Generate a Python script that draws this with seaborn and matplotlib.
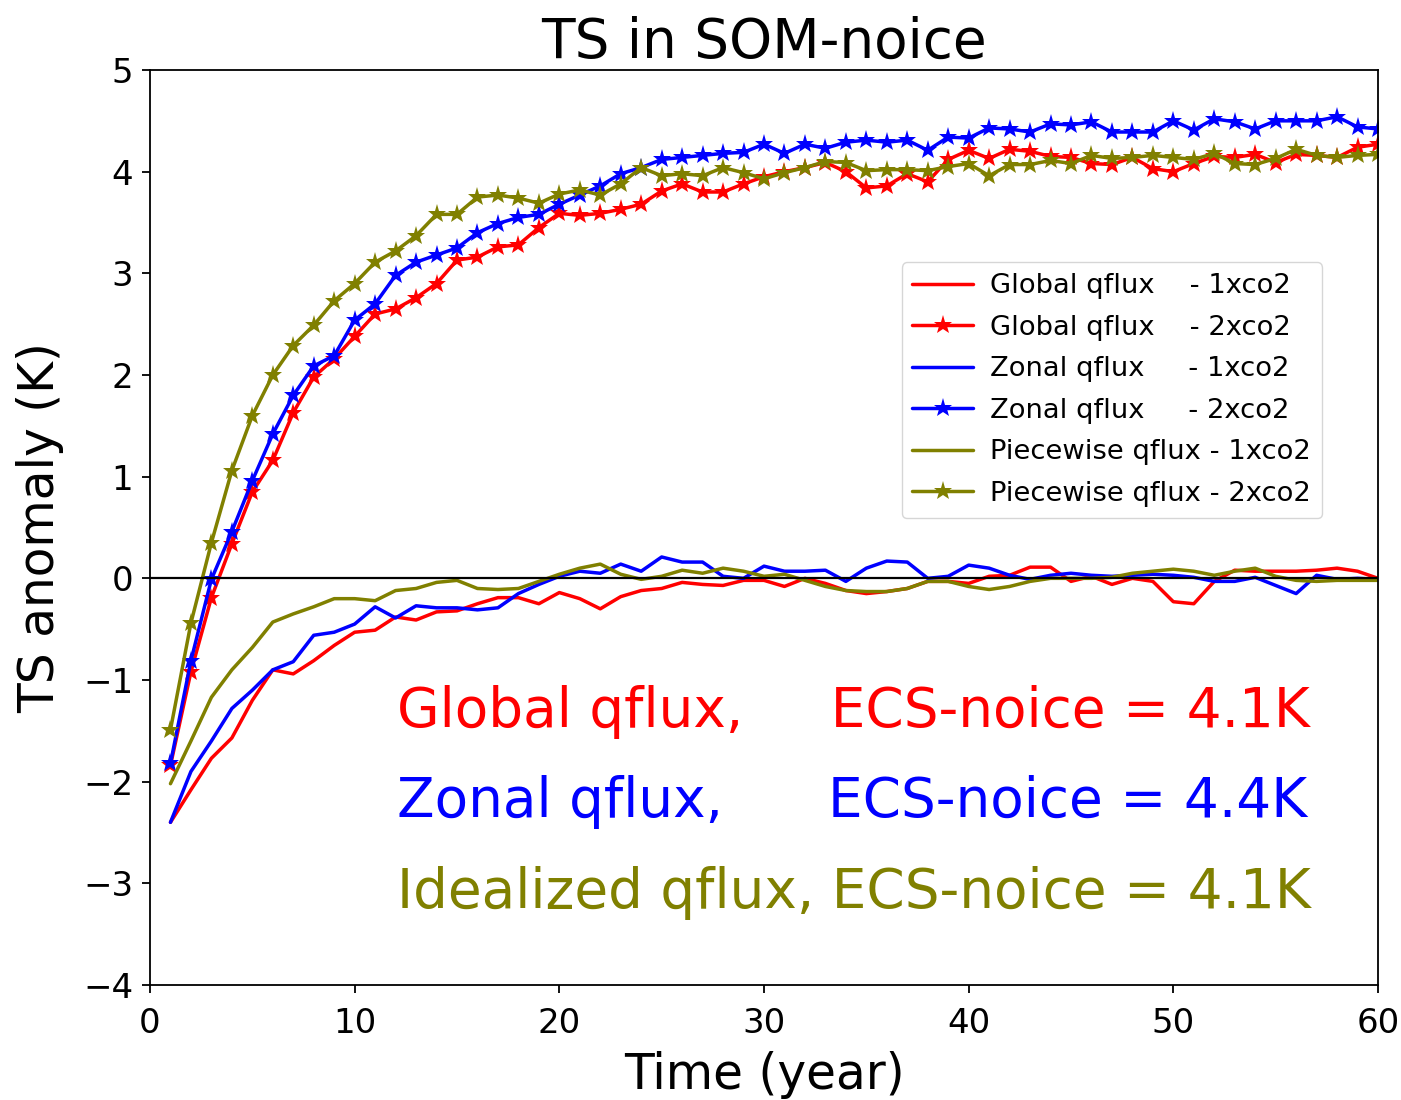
import numpy as np
import pandas as pd
import matplotlib
matplotlib.use("Agg")
import matplotlib.pyplot as plt
import seaborn as sns

# Simulation years
years = list(range(1, 61))

# Global-mean surface temperature anomaly (K)
global_1x = [-2.40, -2.08, -1.77, -1.57, -1.20, -0.90, -0.94, -0.81, -0.66, -0.53,
             -0.51, -0.38, -0.41, -0.33, -0.32, -0.25, -0.19, -0.19, -0.25, -0.14,
             -0.20, -0.30, -0.18, -0.12, -0.10, -0.04, -0.06, -0.07, -0.02, -0.02,
             -0.08, 0.00, -0.05, -0.12, -0.15, -0.13, -0.10, -0.03, -0.03, -0.05,
             0.02, 0.03, 0.11, 0.11, -0.03, 0.02, -0.06, 0.00, -0.03, -0.23,
             -0.25, -0.03, 0.08, 0.07, 0.07, 0.07, 0.08, 0.10, 0.07, 0.00]
global_2x = [-1.84, -0.92, -0.19, 0.34, 0.85, 1.16, 1.63, 1.98, 2.16, 2.38,
             2.60, 2.65, 2.76, 2.90, 3.13, 3.16, 3.26, 3.28, 3.45, 3.59,
             3.57, 3.59, 3.63, 3.68, 3.81, 3.88, 3.80, 3.80, 3.88, 3.95,
             4.00, 4.04, 4.09, 4.00, 3.84, 3.86, 3.98, 3.90, 4.12, 4.21,
             4.13, 4.22, 4.20, 4.15, 4.14, 4.08, 4.07, 4.14, 4.03, 4.00,
             4.08, 4.15, 4.14, 4.17, 4.09, 4.17, 4.16, 4.14, 4.24, 4.27]
zonal_1x = [-2.40, -1.90, -1.60, -1.28, -1.10, -0.90, -0.82, -0.56, -0.53, -0.45,
            -0.28, -0.39, -0.27, -0.29, -0.29, -0.31, -0.29, -0.15, -0.06, 0.02,
            0.07, 0.05, 0.14, 0.07, 0.21, 0.16, 0.16, 0.02, 0.00, 0.12,
            0.07, 0.07, 0.08, -0.03, 0.10, 0.17, 0.16, 0.00, 0.02, 0.13,
            0.10, 0.03, -0.01, 0.03, 0.05, 0.03, 0.02, 0.03, 0.04, 0.03,
            0.01, -0.03, -0.03, 0.01, -0.07, -0.15, 0.03, -0.01, 0.00, -0.01]
zonal_2x = [-1.82, -0.81, -0.01, 0.46, 0.96, 1.42, 1.80, 2.09, 2.19, 2.54,
            2.70, 2.98, 3.11, 3.18, 3.25, 3.40, 3.49, 3.55, 3.58, 3.68,
            3.77, 3.86, 3.98, 4.04, 4.12, 4.14, 4.16, 4.18, 4.19, 4.27,
            4.18, 4.27, 4.23, 4.29, 4.31, 4.29, 4.31, 4.21, 4.34, 4.33,
            4.43, 4.42, 4.39, 4.47, 4.46, 4.49, 4.39, 4.39, 4.39, 4.50,
            4.41, 4.52, 4.49, 4.42, 4.50, 4.50, 4.50, 4.54, 4.44, 4.42]
piece_1x = [-2.02, -1.60, -1.17, -0.90, -0.68, -0.43, -0.35, -0.28, -0.20, -0.20,
            -0.22, -0.12, -0.10, -0.04, -0.02, -0.10, -0.11, -0.10, -0.03, 0.04,
            0.10, 0.14, 0.04, -0.01, 0.02, 0.08, 0.05, 0.10, 0.07, 0.02,
            0.04, -0.02, -0.08, -0.12, -0.13, -0.13, -0.10, -0.03, -0.03, -0.08,
            -0.11, -0.08, -0.03, 0.00, 0.00, 0.00, 0.01, 0.05, 0.07, 0.09,
            0.07, 0.03, 0.07, 0.10, 0.02, -0.02, -0.03, -0.02, -0.02, -0.02]
piece_2x = [-1.49, -0.44, 0.35, 1.06, 1.60, 2.00, 2.29, 2.49, 2.73, 2.90,
            3.11, 3.22, 3.37, 3.58, 3.58, 3.75, 3.77, 3.74, 3.69, 3.78,
            3.82, 3.77, 3.88, 4.04, 3.96, 3.98, 3.96, 4.04, 3.99, 3.93,
            3.99, 4.04, 4.10, 4.09, 4.01, 4.02, 4.02, 4.01, 4.05, 4.08,
            3.96, 4.07, 4.07, 4.11, 4.08, 4.16, 4.13, 4.14, 4.16, 4.14,
            4.12, 4.18, 4.08, 4.07, 4.13, 4.22, 4.16, 4.14, 4.16, 4.17]

series_labels = ["Global qflux    - 1xco2", "Global qflux    - 2xco2",
                 "Zonal qflux     - 1xco2", "Zonal qflux     - 2xco2",
                 "Piecewise qflux - 1xco2", "Piecewise qflux - 2xco2"]
series_values = [global_1x, global_2x, zonal_1x, zonal_2x, piece_1x, piece_2x]
series_colors = ["red", "red", "blue", "blue", "olive", "olive"]
series_markers = [None, "*", None, "*", None, "*"]

ecs_labels = ["Global qflux,     ECS-noice = 4.1K",
              "Zonal qflux,      ECS-noice = 4.4K",
              "Idealized qflux, ECS-noice = 4.1K"]
ecs_colors = ["red", "blue", "olive"]

sns.set_style("ticks")
plt.rcParams["font.family"] = ["DejaVu Sans"]
plt.rcParams["text.color"] = "black"
plt.rcParams["axes.labelcolor"] = "black"

fig = plt.figure(figsize=(14.01, 11.0), dpi=100)
ax = fig.add_axes([150 / 1401, 1 - 985 / 1100, 1228 / 1401, 915 / 1100])

for lab, vals, col, mk in zip(series_labels, series_values, series_colors, series_markers):
    df = pd.DataFrame({"year": years, "ts": vals})
    kw = dict(marker=mk, markersize=14, markeredgewidth=0) if mk else {}
    sns.lineplot(data=df, x="year", y="ts", color=col, linewidth=2.5,
                 label=lab, ax=ax, **kw)

ax.axhline(0, color="black", linewidth=1.6, zorder=5)

ax.set_xlim(0, 60)
ax.set_ylim(-4, 5)
ax.set_xticks(np.arange(0, 61, 10))
ax.set_yticks(np.arange(-4, 6, 1))
ax.tick_params(axis="both", labelsize=24.5, direction="out", length=6, width=1.3,
               colors="black")
ax.tick_params(axis="x", pad=10)
ax.tick_params(axis="y", pad=6)
for sp in ax.spines.values():
    sp.set_linewidth(1.3)
    sp.set_color("black")

ax.set_xlabel("Time (year)", fontsize=35, labelpad=8, color="black")
ax.set_ylabel("TS anomaly (K)", fontsize=35, labelpad=14, color="black")
ax.set_title("TS in SOM-noice", fontsize=39.5, pad=1, color="black")

leg = ax.legend(loc="upper left", bbox_to_anchor=(0.612, 0.79), borderaxespad=0,
                fontsize=19.7, frameon=True, handlelength=2.2, handletextpad=0.65,
                labelspacing=0.57)
for t in leg.get_texts():
    t.set_color("black")

for lab, col, yv in zip(ecs_labels, ecs_colors, [-1.465, -2.35, -3.245]):
    ax.text(12.05, yv, lab, color=col, fontsize=39.5, va="baseline", ha="left")

fig.savefig("out.png", dpi=100)
